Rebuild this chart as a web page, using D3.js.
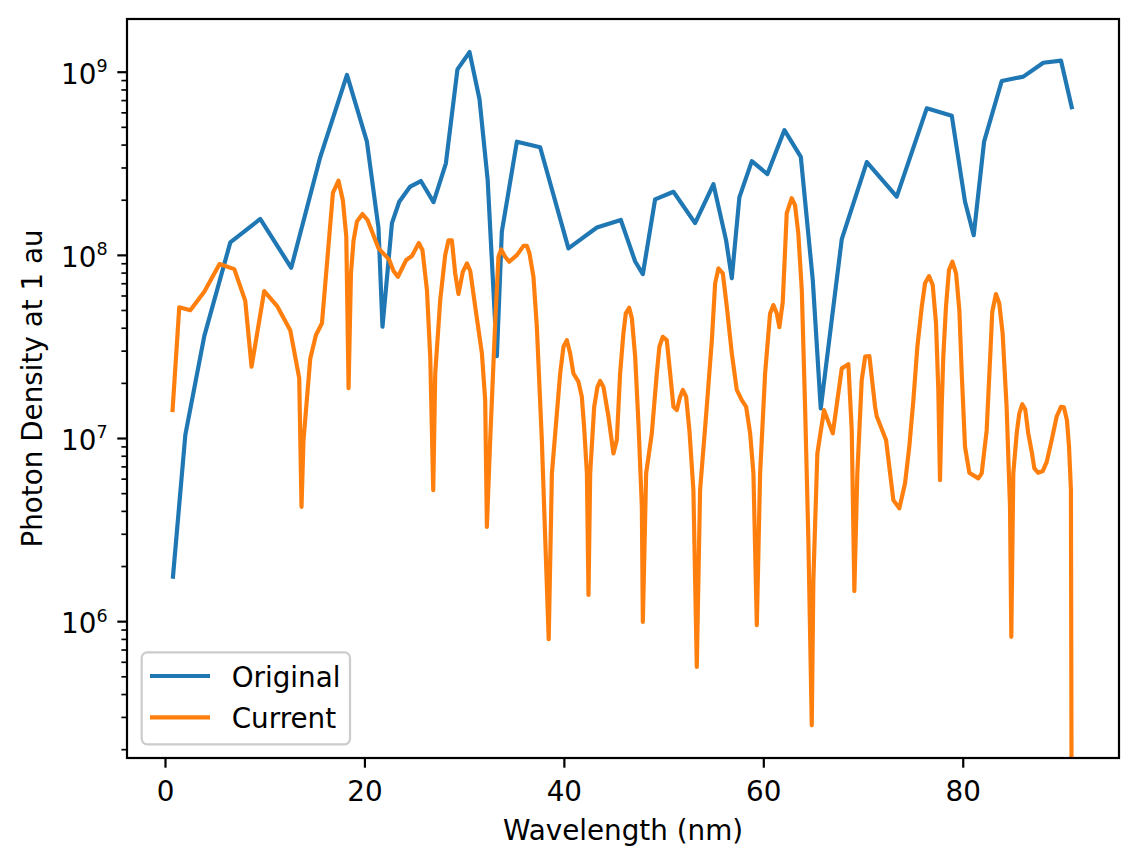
<!DOCTYPE html>
<html>
<head>
<meta charset="utf-8">
<script src="https://cdn.jsdelivr.net/npm/d3@7"></script>
<style>
    body { margin: 0; background: #fff; }
    svg, svg text { font-family: "DejaVu Sans", sans-serif; }
</style>
</head>
<body>
<div id="chart"></div>
<script>
// series
const originalWavelength = [0.80, 2.04, 3.94, 6.55, 9.55, 12.66, 15.57, 18.25, 20.25, 21.41,
    21.81, 22.76, 23.49, 24.59, 25.66, 26.93, 28.17, 29.33, 30.54, 31.54,
    32.36, 33.28, 33.78, 35.29, 37.62, 40.46, 43.31, 45.71, 47.15, 47.92,
    49.15, 50.99, 53.16, 55.00, 56.27, 56.84, 57.60, 58.85, 60.41, 62.12,
    63.76, 64.96, 65.76, 67.87, 70.38, 73.38, 76.39, 78.90, 80.23, 81.10,
    82.14, 83.91, 86.08, 88.08, 89.85, 90.93];
const originalDensity = [1.75e6, 1.04e7, 3.6e7, 1.17e8, 1.57e8, 8.5e7, 3.42e8, 9.6e8, 4.15e8, 1.40e8,
    4.05e7, 1.49e8, 1.95e8, 2.36e8, 2.53e8, 1.94e8, 3.16e8, 1.03e9, 1.28e9, 7.07e8,
    2.56e8, 2.8e7, 1.34e8, 4.15e8, 3.87e8, 1.085e8, 1.41e8, 1.55e8, 9.2e7, 7.85e7,
    2.01e8, 2.21e8, 1.49e8, 2.43e8, 1.2e8, 7.45e7, 2.06e8, 3.25e8, 2.76e8, 4.8e8,
    3.43e8, 7.3e7, 1.45e7, 1.22e8, 3.21e8, 2.08e8, 6.31e8, 5.75e8, 1.95e8, 1.28e8,
    4.15e8, 8.9e8, 9.4e8, 1.12e9, 1.15e9, 6.4e8];

const currentWavelength = [0.76, 1.43, 2.54, 3.94, 5.47, 6.95, 8.05, 8.68, 9.95, 11.23,
    12.56, 13.46, 13.69, 13.89, 14.57, 15.14, 15.74, 16.84, 17.40, 17.84,
    18.18, 18.41, 18.65, 18.91, 19.25, 19.81, 20.31, 21.41, 22.46, 22.92,
    23.36, 24.19, 24.76, 25.46, 25.82, 26.27, 26.60, 26.90, 27.10, 27.60,
    28.10, 28.43, 28.77, 29.10, 29.43, 29.87, 30.28, 30.61, 31.11, 31.78,
    32.11, 32.28, 32.61, 33.11, 33.44, 33.71, 34.11, 34.52, 35.29, 35.95,
    36.29, 36.55, 36.95, 37.29, 37.79, 38.48, 38.80, 39.63, 39.96, 40.30,
    40.63, 40.96, 41.46, 41.80, 42.03, 42.31, 42.47, 42.64, 43.04, 43.37,
    43.64, 43.97, 44.47, 44.97, 45.31, 45.64, 45.97, 46.21, 46.55, 46.82,
    47.15, 47.48, 47.82, 47.92, 48.25, 48.82, 49.32, 49.58, 49.92, 50.32,
    50.66, 50.99, 51.33, 51.66, 51.93, 52.26, 52.59, 52.99, 53.33, 53.66,
    54.33, 54.84, 55.17, 55.50, 55.94, 56.34, 56.84, 57.34, 57.84, 58.28,
    58.68, 59.01, 59.35, 59.68, 60.18, 60.68, 61.01, 61.35, 61.61, 61.95,
    62.35, 62.85, 63.18, 63.51, 63.86, 64.19, 64.52, 64.86, 65.02, 65.42,
    66.09, 66.97, 67.87, 68.53, 68.87, 69.13, 69.43, 69.87, 70.21, 70.64,
    71.21, 71.38, 72.31, 73.04, 73.64, 74.21, 74.64, 75.05, 75.45, 75.89,
    76.22, 76.62, 76.99, 77.32, 77.55, 77.72, 77.89, 78.05, 78.32, 78.62,
    78.96, 79.33, 79.66, 79.90, 80.23, 80.66, 81.56, 81.90, 82.40, 82.80,
    82.96, 83.33, 83.66, 84.00, 84.40, 84.74, 84.87, 85.07, 85.41, 85.67,
    85.97, 86.27, 86.57, 86.92, 87.18, 87.57, 88.02, 88.42, 88.92, 89.42,
    89.85, 90.15, 90.45, 90.66, 90.85, 91.03];
const currentDensity = [1.42e7, 5.17e7, 4.99e7, 6.29e7, 8.91e7, 8.36e7, 5.61e7, 2.45e7, 6.34e7, 5.27e7,
    3.88e7, 2.12e7, 4.21e6, 9.74e6, 2.72e7, 3.65e7, 4.23e7, 2.18e8, 2.54e8, 1.98e8,
    1.26e8, 1.87e7, 7.93e7, 1.20e8, 1.52e8, 1.67e8, 1.55e8, 1.085e8, 9.45e7, 8.16e7,
    7.59e7, 9.37e7, 9.85e7, 1.16e8, 1.06e8, 6.42e7, 2.78e7, 5.19e6, 2.25e7, 5.66e7,
    9.97e7, 1.20e8, 1.20e8, 7.93e7, 6.11e7, 8.09e7, 8.99e7, 8.19e7, 5.21e7, 2.90e7,
    1.61e7, 3.27e6, 9.74e6, 4.23e7, 9.76e7, 1.07e8, 9.76e7, 9.17e7, 9.97e7, 1.12e8,
    1.12e8, 1.02e8, 7.59e7, 4.05e7, 9.74e6, 7.97e5, 6.41e6, 2.25e7, 3.15e7, 3.42e7,
    2.90e7, 2.25e7, 2.03e7, 1.68e7, 1.15e7, 6.41e6, 1.39e6, 6.41e6, 1.48e7, 1.90e7,
    2.05e7, 1.90e7, 1.31e7, 8.24e6, 9.74e6, 2.25e7, 3.73e7, 4.79e7, 5.14e7, 4.50e7,
    2.78e7, 1.20e7, 4.21e6, 9.91e5, 6.41e6, 1.06e7, 2.25e7, 3.15e7, 3.57e7, 3.42e7,
    2.25e7, 1.48e7, 1.42e7, 1.68e7, 1.83e7, 1.68e7, 1.10e7, 5.19e6, 5.63e5, 5.19e6,
    1.48e7, 3.42e7, 6.99e7, 8.44e7, 7.93e7, 5.21e7, 2.90e7, 1.83e7, 1.61e7, 1.48e7,
    1.06e7, 6.41e6, 9.51e5, 6.41e6, 2.25e7, 4.79e7, 5.32e7, 4.79e7, 4.03e7, 5.52e7,
    1.69e8, 2.04e8, 1.87e8, 1.31e8, 6.42e7, 1.48e7, 2.77e6, 2.70e5, 1.67e6, 8.24e6,
    1.42e7, 1.06e7, 2.40e7, 2.53e7, 1.10e7, 1.46e6, 6.41e6, 2.07e7, 2.78e7, 2.80e7,
    1.48e7, 1.31e7, 9.74e6, 4.58e6, 4.13e6, 5.65e6, 8.95e6, 1.61e7, 3.15e7, 5.21e7,
    6.99e7, 7.66e7, 6.84e7, 4.23e7, 1.83e7, 5.89e6, 1.48e7, 2.78e7, 5.21e7, 8.26e7,
    9.17e7, 7.93e7, 4.99e7, 2.25e7, 8.95e6, 6.46e6, 6.02e6, 6.41e6, 1.10e7, 3.15e7,
    4.89e7, 6.11e7, 5.44e7, 3.73e7, 1.48e7, 4.21e6, 8.21e5, 6.41e6, 1.06e7, 1.36e7,
    1.53e7, 1.43e7, 1.06e7, 8.41e6, 6.82e6, 6.46e6, 6.60e6, 7.41e6, 9.74e6, 1.31e7,
    1.48e7, 1.47e7, 1.25e7, 8.95e6, 5.19e6, 0];

const seriesNames = ["Original", "Current"];
const seriesColors = ["#1f77b4", "#ff7f0e"];

const xTicks = [0, 20, 40, 60, 80];
const yMajorTicks = [1e6, 1e7, 1e8, 1e9];
const xLimits = [-3.81, 95.67];
const yLimits = [1.79e5, 1.94e9];

const fontSize = 27.8;
const fontFamily = "DejaVu Sans, sans-serif";
const margin = { top: 19, right: 20, bottom: 107, left: 127 };
const width = 1139 - margin.left - margin.right;
const height = 865 - margin.top - margin.bottom;

const svg = d3.select("#chart")
    .append("svg")
    .attr("width", width + margin.left + margin.right)
    .attr("height", height + margin.top + margin.bottom);

const g = svg.append("g")
    .attr("transform", `translate(${margin.left},${margin.top})`);

const x = d3.scaleLinear().domain(xLimits).range([0, width]);
const y = d3.scaleLog().domain(yLimits).range([height, 0]);

// clip so the last (zero) point of Current runs off the bottom like matplotlib
g.append("clipPath").attr("id", "plotClip")
    .append("rect").attr("width", width).attr("height", height);

const series = [
    { name: seriesNames[0], color: seriesColors[0], xs: originalWavelength, ys: originalDensity },
    { name: seriesNames[1], color: seriesColors[1], xs: currentWavelength, ys: currentDensity }
];

const line = d3.line()
    .x(d => x(d[0]))
    .y(d => y(Math.max(d[1], 1e2)));  // nonpositive values -> far below the axis

g.append("g").attr("clip-path", "url(#plotClip)")
    .selectAll(".series")
    .data(series)
    .enter()
    .append("path")
    .attr("class", "series")
    .attr("fill", "none")
    .attr("stroke", d => d.color)
    .attr("stroke-width", 4.17)
    .attr("stroke-linejoin", "round")
    .attr("stroke-linecap", "square")
    .attr("d", d => line(d.xs.map((v, i) => [v, d.ys[i]])));

// x axis
const xAxis = g.append("g")
    .attr("transform", `translate(0,${height})`)
    .call(d3.axisBottom(x).tickValues(xTicks).tickSize(9.7).tickFormat(d3.format("d")));
xAxis.attr("font-family", fontFamily);
xAxis.select(".domain").remove();
xAxis.selectAll(".tick line").attr("stroke", "#000").attr("stroke-width", 2.2);
xAxis.selectAll(".tick text")
    .attr("y", 42.5).attr("dy", 0)
    .attr("fill", "#000")
    .style("font-size", fontSize + "px");

// y axis, minor ticks first
const yMinorTicks = [];
for (let e = 5; e <= 9; e++) {
    for (let m = 2; m <= 9; m++) {
        const v = m * Math.pow(10, e);
        if (v >= yLimits[0] && v <= yLimits[1]) yMinorTicks.push(v);
    }
}
const yMinor = g.append("g")
    .call(d3.axisLeft(y).tickValues(yMinorTicks).tickSize(5.6).tickFormat(""));
yMinor.select(".domain").remove();
yMinor.selectAll(".tick line").attr("stroke", "#000").attr("stroke-width", 1.67);

const yAxis = g.append("g")
    .call(d3.axisLeft(y).tickValues(yMajorTicks).tickSize(9.7).tickFormat(""));
yAxis.attr("font-family", fontFamily);
yAxis.select(".domain").remove();
yAxis.selectAll(".tick line").attr("stroke", "#000").attr("stroke-width", 2.2);
yAxis.selectAll(".tick text").each(function (d) {
    const t = d3.select(this)
        .attr("x", -19.4).attr("y", 11.6).attr("dy", 0)
        .attr("fill", "#000")
        .attr("text-anchor", "end")
        .style("font-size", fontSize + "px");
    t.append("tspan").text("10");
    t.append("tspan")
        .attr("dy", -11.7)
        .style("font-size", "17.5px")
        .text(Math.round(Math.log10(d)));
});

// frame
g.append("rect")
    .attr("width", width)
    .attr("height", height)
    .attr("fill", "none")
    .attr("stroke", "#000")
    .attr("stroke-width", 2.2);

// axis labels
g.append("text")
    .attr("x", width / 2)
    .attr("y", 821)
    .attr("text-anchor", "middle")
    .style("font-size", fontSize + "px")
    .text("Wavelength (nm)");

g.append("text")
    .attr("transform", `translate(${41.7 - margin.left},${height / 2}) rotate(-90)`)
    .attr("text-anchor", "middle")
    .style("font-size", fontSize + "px")
    .text("Photon Density at 1 au");

// legend
const legend = g.append("g").attr("transform", `translate(${141.7 - margin.left},${652.3 - margin.top})`);
legend.append("rect")
    .attr("width", 208.3)
    .attr("height", 92)
    .attr("rx", 5.5)
    .attr("fill", "#fff")
    .attr("fill-opacity", 0.8)
    .attr("stroke", "#cccccc")
    .attr("stroke-width", 2.2);

const items = legend.selectAll(".item")
    .data(series)
    .enter()
    .append("g")
    .attr("class", "item")
    .attr("transform", (d, i) => `translate(0,${23.7 + i * 41.3})`);
items.append("line")
    .attr("x1", 8.3).attr("x2", 68.3)
    .attr("stroke", d => d.color)
    .attr("stroke-width", 4.17)
    .attr("stroke-linecap", "butt");
items.append("text")
    .attr("x", 90)
    .attr("y", 10.7)
    .style("font-size", fontSize + "px")
    .text(d => d.name);
</script>
</body>
</html>
